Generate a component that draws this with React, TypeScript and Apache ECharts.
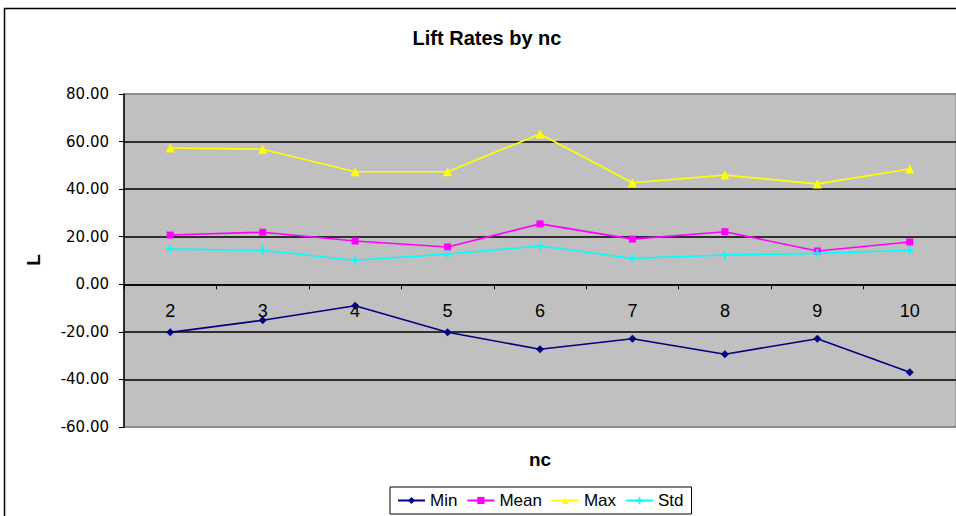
import React, { useEffect, useRef } from "react";
import * as echarts from "echarts";

// nc values along the category axis
const categories = ["2", "3", "4", "5", "6", "7", "8", "9", "10"];

// lift-rate statistics per nc
const minValues = [-20.2, -15.1, -9.0, -20.2, -27.3, -22.9, -29.4, -22.9, -37.0];
const meanValues = [20.7, 21.9, 18.2, 15.7, 25.4, 19.0, 22.1, 14.0, 17.8];
const maxValues = [57.3, 56.8, 47.3, 47.3, 63.2, 42.7, 45.9, 42.2, 48.5];
const stdValues = [14.8, 14.3, 10.1, 12.7, 16.1, 10.9, 12.3, 13.0, 14.3];

const yMin = -60;
const yMax = 80;
const yInterval = 20;

const GRID_TOP = 94;
const GRID_HEIGHT = 333;
// the category axis sits on the zero line of the value axis
const ZERO_OFFSET = -(GRID_HEIGHT * (0 - yMin)) / (yMax - yMin);

const FONT = "Arial, 'Liberation Sans', sans-serif";
const PLUS = "path://M3,0H5V3H8V5H5V8H3V5H0V3H3Z";

export default function App() {
  const ref = useRef<HTMLDivElement>(null);

  useEffect(() => {
    if (!ref.current) return;
    const chart = echarts.init(ref.current, null, { renderer: "svg" });

    const line = (
      name: string,
      data: number[],
      color: string,
      symbol: string,
      symbolSize: number
    ) => ({
      name,
      type: "line",
      data,
      symbol,
      symbolSize,
      showSymbol: true,
      lineStyle: { color, width: 1.6 },
      itemStyle: { color, borderWidth: 0 },
      emphasis: { disabled: true },
    });

    chart.setOption({
      animation: false,
      backgroundColor: "#ffffff",
      grid: {
        left: 124,
        top: GRID_TOP,
        width: 833,
        height: GRID_HEIGHT,
        show: true,
        backgroundColor: "#C0C0C0",
        borderColor: "#808080",
        borderWidth: 1,
        containLabel: false,
      },
      xAxis: {
        type: "category",
        data: categories,
        boundaryGap: true,
        position: "bottom",
        offset: ZERO_OFFSET,
        axisLine: { onZero: false, lineStyle: { color: "#000", width: 1.5 } },
        axisTick: { show: true, length: 5, lineStyle: { color: "#000", width: 1 } },
        axisLabel: {
          color: "#000",
          fontFamily: FONT,
          fontSize: 18,
          margin: 18,
        },
        splitLine: { show: false },
      },
      yAxis: {
        type: "value",
        min: yMin,
        max: yMax,
        interval: yInterval,
        axisLine: { show: true, lineStyle: { color: "#000", width: 1.5 } },
        axisTick: { show: true, length: 5, lineStyle: { color: "#000", width: 1 } },
        axisLabel: {
          color: "#000",
          fontFamily: "'DejaVu Sans', sans-serif",
          fontSize: 15,
          margin: 15,
          formatter: (v: number) => v.toFixed(2),
        },
        splitLine: {
          show: true,
          lineStyle: {
            color: ["#808080", "#000", "#000", "#000", "#000", "#000", "#000", "#808080"],
            width: 1.5,
          },
        },
      },
      legend: {
        data: ["Min", "Mean", "Max", "Std"],
        left: 390,
        top: 487,
        orient: "horizontal",
        itemWidth: 27,
        itemHeight: 9,
        itemGap: 9,
        padding: [5, 8, 5, 7],
        backgroundColor: "#ffffff",
        borderColor: "#000",
        borderWidth: 1,
        textStyle: { color: "#000", fontFamily: FONT, fontSize: 17 },
      },
      graphic: [
        {
          type: "rect",
          shape: { x: 4.5, y: 8.5, width: 1200, height: 800 },
          style: { fill: "none", stroke: "#000", lineWidth: 1.5 },
          silent: true,
          z: -10,
        },
        {
          type: "text",
          x: 487,
          y: 38,
          style: {
            text: "Lift Rates by nc",
            font: `bold 20px ${FONT}`,
            fill: "#000",
            textAlign: "center",
            textVerticalAlign: "middle",
          },
        },
        {
          type: "text",
          x: 540,
          y: 459,
          style: {
            text: "nc",
            font: `bold 19px ${FONT}`,
            fill: "#000",
            textAlign: "center",
            textVerticalAlign: "middle",
          },
        },
        {
          type: "text",
          x: 33,
          y: 260,
          rotation: Math.PI / 2,
          style: {
            text: "L",
            font: `bold 19px ${FONT}`,
            fill: "#000",
            textAlign: "center",
            textVerticalAlign: "middle",
          },
        },
      ],
      series: [
        line("Min", minValues, "#000080", "diamond", 8),
        line("Mean", meanValues, "#FF00FF", "rect", 7),
        line("Max", maxValues, "#FFFF00", "triangle", 9),
        line("Std", stdValues, "#00FFFF", PLUS, 8),
      ],
    });

    return () => chart.dispose();
  }, []);

  return (
    <div
      ref={ref}
      style={{ position: "fixed", left: 0, top: 0, width: 956, height: 516 }}
    />
  );
}
